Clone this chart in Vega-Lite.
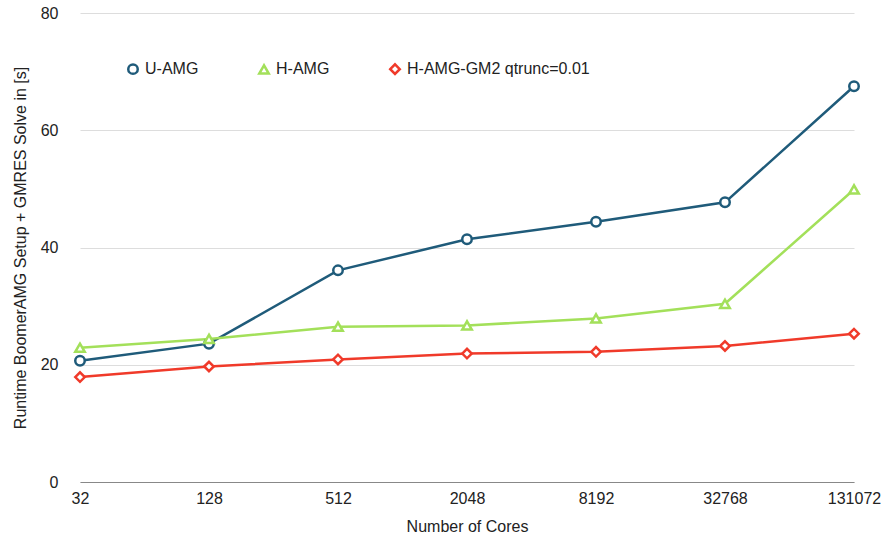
{
  "$schema": "https://vega.github.io/schema/vega-lite/v6.json",
  "width": 891,
  "height": 544,
  "autosize": {"type": "fit", "contains": "padding"},
  "padding": {"left": 12, "right": 10, "top": 5, "bottom": 10},
  "config": {"font": "Liberation Sans", "view": {"stroke": null}},
  "data": {"values": [
    {"cores": "32", "series": "U-AMG", "t": 20.7},
    {"cores": "128", "series": "U-AMG", "t": 23.6},
    {"cores": "512", "series": "U-AMG", "t": 36.1},
    {"cores": "2048", "series": "U-AMG", "t": 41.4},
    {"cores": "8192", "series": "U-AMG", "t": 44.4},
    {"cores": "32768", "series": "U-AMG", "t": 47.7},
    {"cores": "131072", "series": "U-AMG", "t": 67.5},
    {"cores": "32", "series": "H-AMG", "t": 22.9},
    {"cores": "128", "series": "H-AMG", "t": 24.4},
    {"cores": "512", "series": "H-AMG", "t": 26.5},
    {"cores": "2048", "series": "H-AMG", "t": 26.7},
    {"cores": "8192", "series": "H-AMG", "t": 27.9},
    {"cores": "32768", "series": "H-AMG", "t": 30.4},
    {"cores": "131072", "series": "H-AMG", "t": 49.9},
    {"cores": "32", "series": "H-AMG-GM2 qtrunc=0.01", "t": 17.9},
    {"cores": "128", "series": "H-AMG-GM2 qtrunc=0.01", "t": 19.7},
    {"cores": "512", "series": "H-AMG-GM2 qtrunc=0.01", "t": 20.9},
    {"cores": "2048", "series": "H-AMG-GM2 qtrunc=0.01", "t": 21.9},
    {"cores": "8192", "series": "H-AMG-GM2 qtrunc=0.01", "t": 22.2},
    {"cores": "32768", "series": "H-AMG-GM2 qtrunc=0.01", "t": 23.2},
    {"cores": "131072", "series": "H-AMG-GM2 qtrunc=0.01", "t": 25.3}
  ]},
  "mark": {"type": "line", "strokeWidth": 2.5, "point": {"filled": false, "fill": "white", "size": 90, "strokeWidth": 2.5}},
  "encoding": {
    "x": {
      "field": "cores", "type": "ordinal", "sort": null,
      "scale": {"type": "point", "padding": 0},
      "axis": {"title": "Number of Cores", "labelAngle": 0, "labelFontSize": 16, "titleFontSize": 16, "titleFontWeight": "normal", "titlePadding": 12, "domainColor": "#888", "ticks": false, "labelPadding": 8, "labelColor": "#222", "titleColor": "#222"}
    },
    "y": {
      "field": "t", "type": "quantitative",
      "scale": {"domain": [0, 80]},
      "axis": {"title": "Runtime BoomerAMG Setup + GMRES Solve in [s]", "values": [0, 20, 40, 60, 80], "labelFontSize": 16, "titleFontSize": 16, "titleFontWeight": "normal", "gridColor": "#ddd", "domain": false, "ticks": false, "labelPadding": 22, "titlePadding": 12, "labelColor": "#222", "titleColor": "#222"}
    },
    "color": {
      "field": "series", "type": "nominal", "sort": null,
      "scale": {"domain": ["U-AMG", "H-AMG", "H-AMG-GM2 qtrunc=0.01"], "range": ["#1f5b7a", "#a3e05a", "#f03a2a"]},
      "legend": {"title": null, "orient": "none", "legendX": 45, "legendY": 48, "direction": "horizontal", "labelFontSize": 16, "labelLimit": 0, "labelColor": "#222", "columnPadding": 55, "symbolStrokeWidth": 2.5, "symbolFillColor": "white", "symbolSize": 90}
    },
    "shape": {
      "field": "series", "type": "nominal", "sort": null,
      "scale": {"domain": ["U-AMG", "H-AMG", "H-AMG-GM2 qtrunc=0.01"], "range": ["circle", "triangle-up", "diamond"]},
      "legend": null
    }
  }
}
